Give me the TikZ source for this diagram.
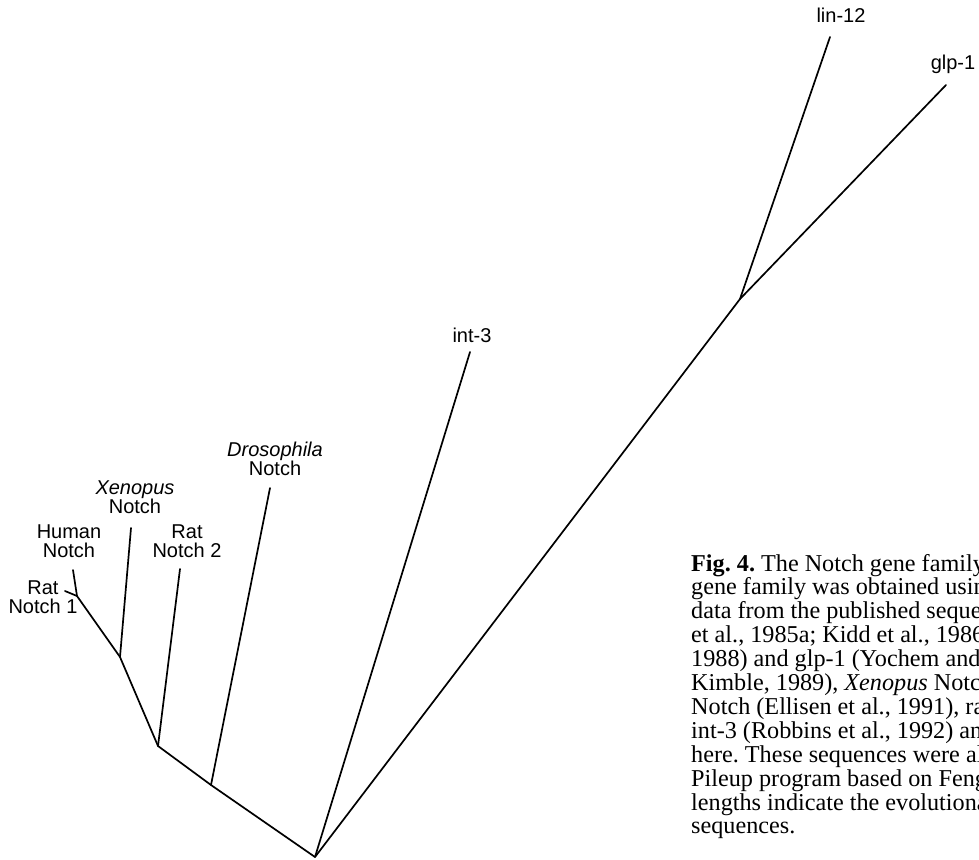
\documentclass[tikz,border=0pt]{standalone}
\usepackage{fontspec}
\setmainfont{Liberation Serif}
\newfontfamily\arialfont{Liberation Sans}
\begin{document}
\frenchspacing
\begin{tikzpicture}[x=1pt,y=-1pt,
  branch/.style={line width=1.7pt,line cap=round,line join=round},
  taxon/.style={font=\arialfont\fontsize{20}{19}\selectfont,align=center,inner sep=0pt},
  capline/.style={font=\fontsize{24.2}{24}\selectfont,anchor=base west,inner sep=0pt}]
\useasboundingbox (0,0) rectangle (979,859);
\clip (0,0) rectangle (979,859);
% junctions
\coordinate (root) at (315,857);
\coordinate (jdro) at (211,785);
\coordinate (jrn2) at (158,746);
\coordinate (jxen) at (120,657);
\coordinate (jhum) at (77,596);
\coordinate (jlin) at (740,299);
% tips
\coordinate (trn1) at (65,591);
\coordinate (thum) at (73,570);
\coordinate (txen) at (131,528);
\coordinate (trn2) at (180,569);
\coordinate (tdro) at (270,488);
\coordinate (tint) at (470,352);
\coordinate (tlin) at (830,37);
\coordinate (tglp) at (946,85);
% branches
\draw[branch] (tglp) -- (jlin) -- (root) -- (jdro) -- (jrn2) -- (jxen) -- (jhum) -- (trn1);
\draw[branch] (jlin) -- (tlin);
\draw[branch] (root) -- (tint);
\draw[branch] (jdro) -- (tdro);
\draw[branch] (jrn2) -- (trn2);
\draw[branch] (jxen) -- (txen);
\draw[branch] (jhum) -- (thum);
% labels
\node[taxon] (lrn1) at (43,597) {Rat\\Notch 1};
\node[taxon] (lhum) at (69,541) {Human\\Notch};
\node[taxon] (lxen) at (135,497) {\itshape Xenopus\\Notch};
\node[taxon] (lrn2) at (187,541) {Rat\\Notch 2};
\node[taxon] (ldro) at (275,459) {\itshape Drosophila\\Notch};
\node[taxon,anchor=base] (lint) at (472,342) {int-3};
\node[taxon,anchor=base] (llin) at (841,23) {lin-12};
\node[taxon,anchor=base] (lglp) at (953,70) {glp-1};
% caption
\node[capline] (c1) at (691,571.0) {\textbf{Fig. 4.} The Notch gene family};
\node[capline] (c2) at (691,594.9) {gene family was obtained using};
\node[capline] (c3) at (691,618.8) {data from the published sequences};
\node[capline] (c4) at (691,642.7) {et al., 1985a; Kidd et al., 1986;};
\node[capline] (c5) at (691,666.6) {1988) and glp-1 (Yochem and};
\node[capline] (c6) at (691,690.5) {Kimble, 1989), \textit{Xenopus} Notch};
\node[capline] (c7) at (691,714.4) {Notch (Ellisen et al., 1991), rat};
\node[capline] (c8) at (691,738.3) {int-3 (Robbins et al., 1992) and};
\node[capline] (c9) at (691,762.2) {here. These sequences were aligned};
\node[capline] (c10) at (691,786.1) {Pileup program based on Feng};
\node[capline] (c11) at (691,810.0) {lengths indicate the evolutionary};
\node[capline] (c12) at (691,833.9) {sequences.};
\end{tikzpicture}
\end{document}
